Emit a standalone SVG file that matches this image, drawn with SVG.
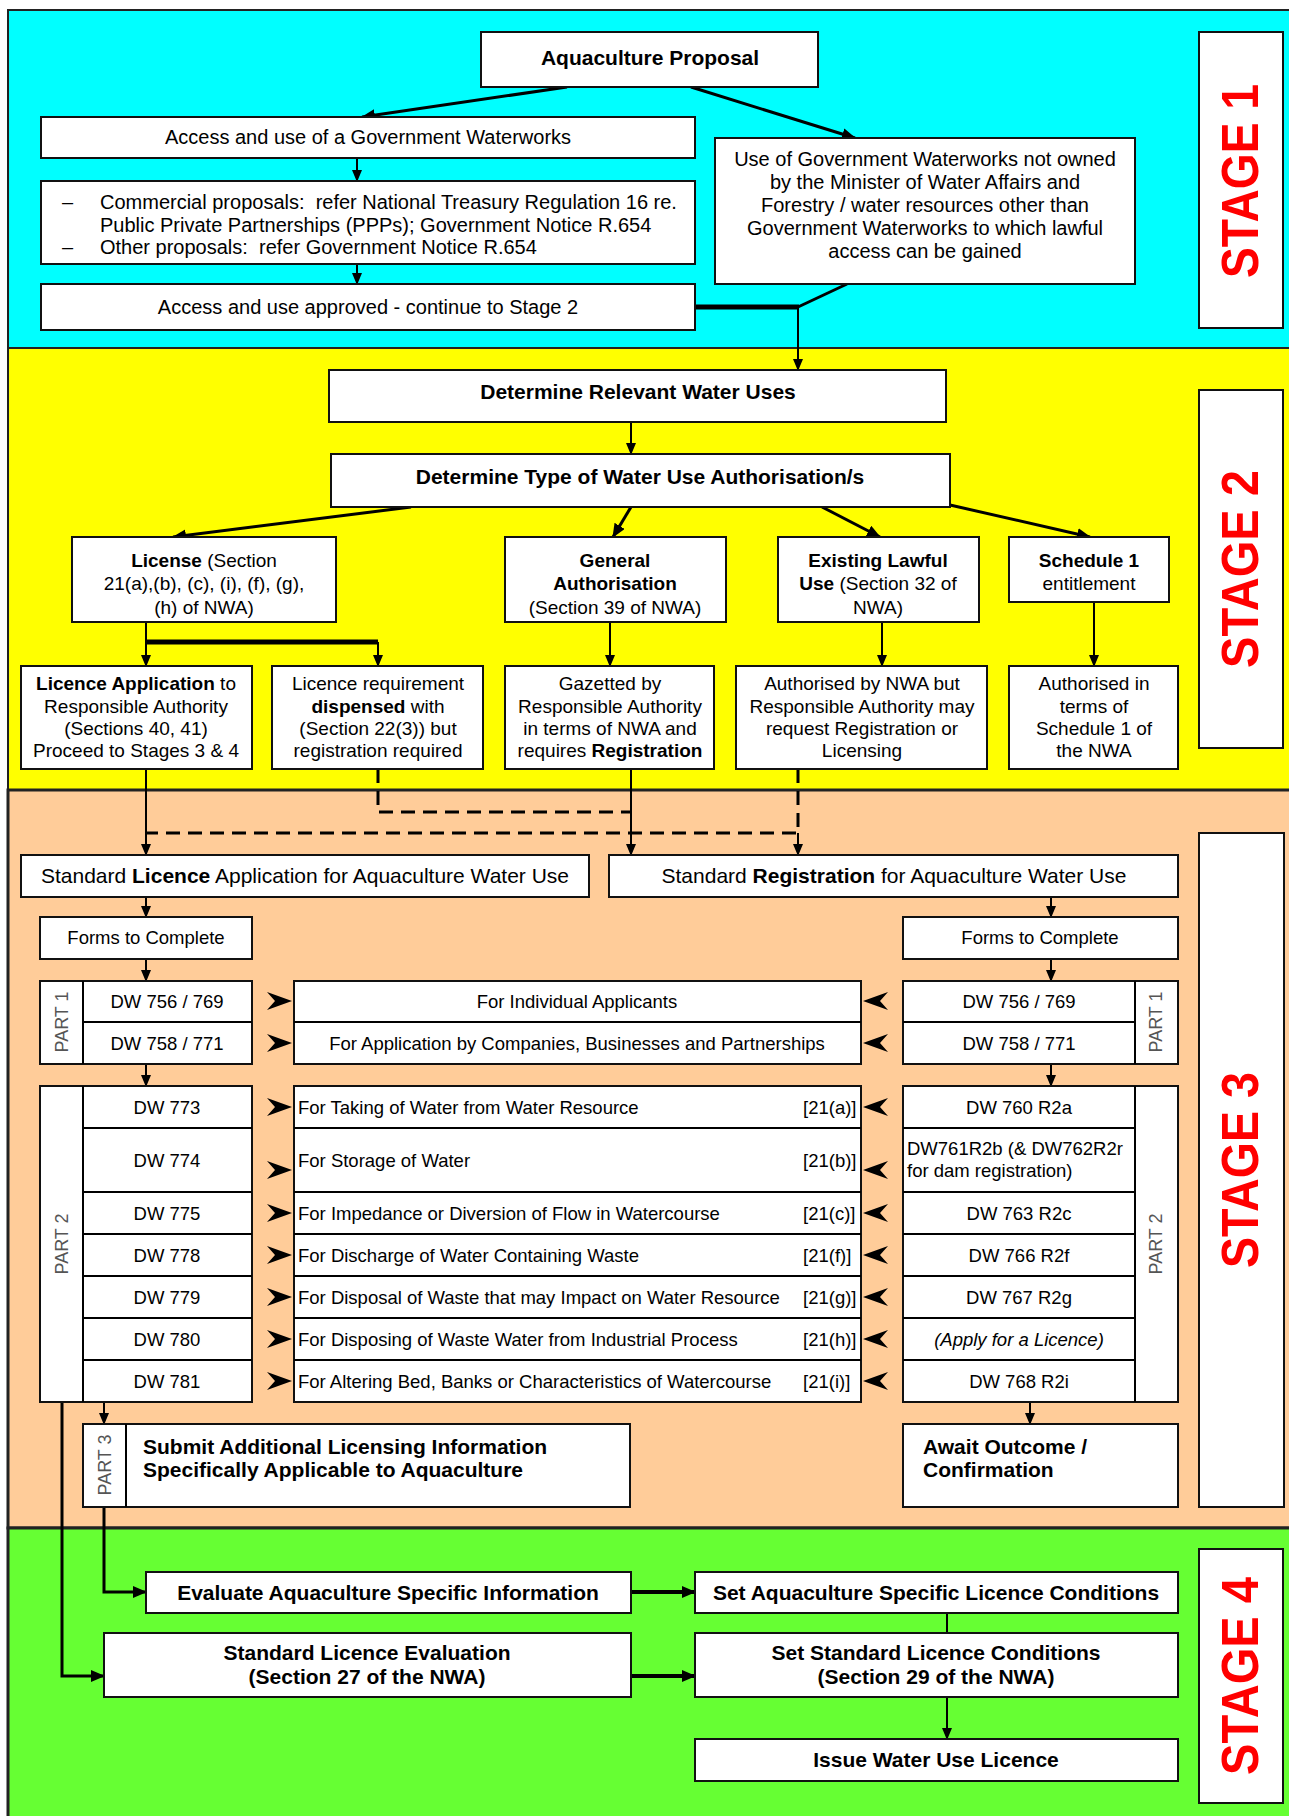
<svg xmlns="http://www.w3.org/2000/svg" width="1289" height="1816" viewBox="0 0 1289 1816">
<style>
text{font-family:"Liberation Sans",Arial,sans-serif;fill:#000}
.box{fill:#fff;stroke:#111;stroke-width:2}
.ln{fill:none;stroke:#000;stroke-width:3}
.thin{fill:none;stroke:#000;stroke-width:2}
.dash{fill:none;stroke:#000;stroke-width:3;stroke-dasharray:14 8}
.c{text-anchor:middle}
.b{font-weight:bold}
.s20{font-size:20px}
.s19{font-size:19px}
.s21{font-size:21px}
.s18{font-size:18.5px}
.part{font-size:18px;fill:#555;text-anchor:middle}
.stage{font-size:52px;font-weight:bold;fill:#f00;text-anchor:middle}
.chev{fill:#000}
</style>
<defs>
<marker id="ah" markerUnits="userSpaceOnUse" markerWidth="14" markerHeight="12" refX="13" refY="6" orient="auto">
<path d="M0,0 L14,6 L0,12 Z" fill="#000"/>
</marker>
<marker id="ahs" markerUnits="userSpaceOnUse" markerWidth="12" markerHeight="10" refX="11" refY="5" orient="auto">
<path d="M0,0 L12,5 L0,10 Z" fill="#000"/>
</marker>
</defs>
<rect width="1289" height="1816" fill="#fff"/>
<g id="stage-backgrounds">
<rect x="8" y="10" width="1290" height="338" fill="#00FFFF" stroke="#222" stroke-width="2"/>
<rect x="8" y="348" width="1290" height="442" fill="#FFFF00" stroke="#222" stroke-width="2"/>
<rect x="8" y="790" width="1290" height="738" fill="#FFCC99" stroke="#222" stroke-width="3"/>
<rect x="8" y="1528" width="1290" height="300" fill="#66FF33" stroke="#222" stroke-width="3"/>
</g>
<g id="stage-labels">
<rect class="box" x="1199" y="32" width="84" height="296"/>
<text class="stage" transform="translate(1258,181) rotate(-90)" textLength="194" lengthAdjust="spacingAndGlyphs">STAGE 1</text>
<rect class="box" x="1199" y="390" width="84" height="358"/>
<text class="stage" transform="translate(1258,569) rotate(-90)" textLength="198" lengthAdjust="spacingAndGlyphs">STAGE 2</text>
<rect class="box" x="1199" y="833" width="85" height="674"/>
<text class="stage" transform="translate(1258,1170) rotate(-90)" textLength="196" lengthAdjust="spacingAndGlyphs">STAGE 3</text>
<rect class="box" x="1199" y="1549" width="84" height="254"/>
<text class="stage" transform="translate(1258,1676) rotate(-90)" textLength="198" lengthAdjust="spacingAndGlyphs">STAGE 4</text>
</g>
<g id="connectors">
<line class="ln" x1="567" y1="87" x2="362" y2="117" marker-end="url(#ah)"/>
<line class="ln" x1="691" y1="87" x2="855" y2="138" marker-end="url(#ah)"/>
<line class="thin" x1="357" y1="158" x2="357" y2="181" marker-end="url(#ahs)"/>
<line class="thin" x1="357" y1="264" x2="357" y2="284" marker-end="url(#ahs)"/>
<line x1="695" y1="307" x2="799" y2="307" stroke="#000" stroke-width="5"/>
<line class="ln" x1="847" y1="284" x2="798" y2="307"/>
<line class="thin" x1="798" y1="307" x2="798" y2="370" marker-end="url(#ahs)"/>
<line class="thin" x1="631" y1="422" x2="631" y2="454" marker-end="url(#ahs)"/>
<line class="ln" x1="411" y1="507" x2="173" y2="537" marker-end="url(#ah)"/>
<line class="ln" x1="631" y1="507" x2="613" y2="537" marker-end="url(#ah)"/>
<line class="ln" x1="822" y1="507" x2="880" y2="537" marker-end="url(#ah)"/>
<line class="ln" x1="950" y1="505" x2="1090" y2="537" marker-end="url(#ah)"/>
<line class="thin" x1="146" y1="622" x2="146" y2="666" marker-end="url(#ahs)"/>
<polyline points="146,642 378,642" fill="none" stroke="#000" stroke-width="5"/>
<line class="thin" x1="378" y1="642" x2="378" y2="666" marker-end="url(#ahs)"/>
<line class="thin" x1="610" y1="622" x2="610" y2="666" marker-end="url(#ahs)"/>
<line class="thin" x1="882" y1="622" x2="882" y2="666" marker-end="url(#ahs)"/>
<line class="thin" x1="1094" y1="602" x2="1094" y2="666" marker-end="url(#ahs)"/>
<line class="thin" x1="146" y1="769" x2="146" y2="855" marker-end="url(#ahs)"/>
<polyline class="dash" points="378,769 378,812 631,812"/>
<line class="thin" x1="631" y1="769" x2="631" y2="855" marker-end="url(#ahs)"/>
<polyline class="dash" points="798,769 798,833 146,833"/>
<line class="thin" x1="798" y1="833" x2="798" y2="855" marker-end="url(#ahs)"/>
<line class="thin" x1="146" y1="897" x2="146" y2="917" marker-end="url(#ahs)"/>
<line class="thin" x1="146" y1="959" x2="146" y2="981" marker-end="url(#ahs)"/>
<line class="thin" x1="146" y1="1064" x2="146" y2="1086" marker-end="url(#ahs)"/>
<line class="thin" x1="1051" y1="897" x2="1051" y2="917" marker-end="url(#ahs)"/>
<line class="thin" x1="1051" y1="959" x2="1051" y2="981" marker-end="url(#ahs)"/>
<line class="thin" x1="1051" y1="1064" x2="1051" y2="1086" marker-end="url(#ahs)"/>
<line class="thin" x1="104" y1="1402" x2="104" y2="1424" marker-end="url(#ahs)"/>
<line class="thin" x1="1030" y1="1402" x2="1030" y2="1424" marker-end="url(#ahs)"/>
<polyline class="ln" points="104,1507 104,1592 146,1592" marker-end="url(#ah)"/>
<polyline class="ln" points="62,1402 62,1676 104,1676" marker-end="url(#ah)"/>
<line x1="631" y1="1592" x2="695" y2="1592" stroke="#000" stroke-width="4" marker-end="url(#ah)"/>
<line x1="631" y1="1676" x2="695" y2="1676" stroke="#000" stroke-width="4" marker-end="url(#ah)"/>
<line class="thin" x1="947" y1="1613" x2="947" y2="1633"/>
<line class="thin" x1="947" y1="1697" x2="947" y2="1739" marker-end="url(#ahs)"/>
<g id="chevrons" class="chev">
<path d="M267,992 L292,1001 L267,1010 L275,1001 Z"/>
<path d="M267,1034 L292,1043 L267,1052 L275,1043 Z"/>
<path d="M267,1098 L292,1107 L267,1116 L275,1107 Z"/>
<path d="M267,1161 L292,1170 L267,1179 L275,1170 Z"/>
<path d="M267,1204 L292,1213 L267,1222 L275,1213 Z"/>
<path d="M267,1246 L292,1255 L267,1264 L275,1255 Z"/>
<path d="M267,1288 L292,1297 L267,1306 L275,1297 Z"/>
<path d="M267,1330 L292,1339 L267,1348 L275,1339 Z"/>
<path d="M267,1372 L292,1381 L267,1390 L275,1381 Z"/>
<path d="M888,992 L863,1001 L888,1010 L880,1001 Z"/>
<path d="M888,1034 L863,1043 L888,1052 L880,1043 Z"/>
<path d="M888,1098 L863,1107 L888,1116 L880,1107 Z"/>
<path d="M888,1161 L863,1170 L888,1179 L880,1170 Z"/>
<path d="M888,1204 L863,1213 L888,1222 L880,1213 Z"/>
<path d="M888,1246 L863,1255 L888,1264 L880,1255 Z"/>
<path d="M888,1288 L863,1297 L888,1306 L880,1297 Z"/>
<path d="M888,1330 L863,1339 L888,1348 L880,1339 Z"/>
<path d="M888,1372 L863,1381 L888,1390 L880,1381 Z"/>
</g>
</g>
<g id="n-proposal">
<rect class="box" x="481" y="32" width="337" height="55"/>
<text class="c b s21" x="650" y="65">Aquaculture Proposal</text>
</g>
<g id="n-access">
<rect class="box" x="41" y="117" width="654" height="41"/>
<text class="c s20" x="368" y="144">Access and use of a Government Waterworks</text>
</g>
<g id="n-commercial">
<rect class="box" x="41" y="181" width="654" height="83"/>
<text class="s20" x="62" y="209">–</text>
<text class="s20" x="100" y="209" xml:space="preserve">Commercial proposals:  refer National Treasury Regulation 16 re.</text>
<text class="s20" x="100" y="232">Public Private Partnerships (PPPs); Government Notice R.654</text>
<text class="s20" x="62" y="254">–</text>
<text class="s20" x="100" y="254" xml:space="preserve">Other proposals:  refer Government Notice R.654</text>
</g>
<g id="n-approved">
<rect class="box" x="41" y="284" width="654" height="46"/>
<text class="c s20" x="368" y="314">Access and use approved - continue to Stage 2</text>
</g>
<g id="n-notowned">
<rect class="box" x="715" y="138" width="420" height="146"/>
<text class="c s20" x="925" y="166">Use of Government Waterworks not owned</text>
<text class="c s20" x="925" y="189">by the Minister of Water Affairs and</text>
<text class="c s20" x="925" y="212">Forestry / water resources other than</text>
<text class="c s20" x="925" y="235">Government Waterworks to which lawful</text>
<text class="c s20" x="925" y="258">access can be gained</text>
</g>
<g id="n-relevant">
<rect class="box" x="329" y="370" width="617" height="52"/>
<text class="c b s21" x="638" y="399">Determine Relevant Water Uses</text>
</g>
<g id="n-type">
<rect class="box" x="331" y="454" width="619" height="53"/>
<text class="c b s21" x="640" y="484">Determine Type of Water Use Authorisation/s</text>
</g>
<g id="n-license">
<rect class="box" x="72" y="537" width="264" height="85"/>
<text class="c s19" x="204" y="567"><tspan class="b">License</tspan> (Section</text>
<text class="c s19" x="204" y="590">21(a),(b), (c), (i), (f), (g),</text>
<text class="c s19" x="204" y="614">(h) of NWA)</text>
</g>
<g id="n-general">
<rect class="box" x="505" y="537" width="221" height="85"/>
<text class="c b s19" x="615" y="567">General</text>
<text class="c b s19" x="615" y="590">Authorisation</text>
<text class="c s19" x="615" y="614">(Section 39 of NWA)</text>
</g>
<g id="n-existing">
<rect class="box" x="778" y="537" width="201" height="85"/>
<text class="c b s19" x="878" y="567">Existing Lawful</text>
<text class="c s19" x="878" y="590"><tspan class="b">Use</tspan> (Section 32 of</text>
<text class="c s19" x="878" y="614">NWA)</text>
</g>
<g id="n-schedule">
<rect class="box" x="1009" y="537" width="160" height="65"/>
<text class="c b s19" x="1089" y="567">Schedule 1</text>
<text class="c s19" x="1089" y="590">entitlement</text>
</g>
<g id="n-licapp">
<rect class="box" x="21" y="666" width="231" height="103"/>
<text class="c s19" x="136" y="690"><tspan class="b">Licence Application</tspan> to</text>
<text class="c s19" x="136" y="713">Responsible Authority</text>
<text class="c s19" x="136" y="735">(Sections 40, 41)</text>
<text class="c s19" x="136" y="757">Proceed to Stages 3 &amp; 4</text>
</g>
<g id="n-dispensed">
<rect class="box" x="272" y="666" width="211" height="103"/>
<text class="c s19" x="378" y="690">Licence requirement</text>
<text class="c s19" x="378" y="713"><tspan class="b">dispensed</tspan> with</text>
<text class="c s19" x="378" y="735">(Section 22(3)) but</text>
<text class="c s19" x="378" y="757">registration required</text>
</g>
<g id="n-gazetted">
<rect class="box" x="505" y="666" width="209" height="103"/>
<text class="c s19" x="610" y="690">Gazetted by</text>
<text class="c s19" x="610" y="713">Responsible Authority</text>
<text class="c s19" x="610" y="735">in terms of NWA and</text>
<text class="c s19" x="610" y="757">requires <tspan class="b">Registration</tspan></text>
</g>
<g id="n-authnwa">
<rect class="box" x="736" y="666" width="251" height="103"/>
<text class="c s19" x="862" y="690">Authorised by NWA but</text>
<text class="c s19" x="862" y="713">Responsible Authority may</text>
<text class="c s19" x="862" y="735">request Registration or</text>
<text class="c s19" x="862" y="757">Licensing</text>
</g>
<g id="n-authsched">
<rect class="box" x="1009" y="666" width="169" height="103"/>
<text class="c s19" x="1094" y="690">Authorised in</text>
<text class="c s19" x="1094" y="713">terms of</text>
<text class="c s19" x="1094" y="735">Schedule 1 of</text>
<text class="c s19" x="1094" y="757">the NWA</text>
</g>
<g id="n-stdlicence">
<rect class="box" x="21" y="855" width="568" height="42"/>
<text class="c s21" x="305" y="883">Standard <tspan class="b">Licence</tspan> Application for Aquaculture Water Use</text>
</g>
<g id="n-stdreg">
<rect class="box" x="609" y="855" width="569" height="42"/>
<text class="c s21" x="894" y="883">Standard <tspan class="b">Registration</tspan> for Aquaculture Water Use</text>
</g>
<g id="n-forms-left">
<rect class="box" x="40" y="917" width="212" height="42"/>
<text class="c s18" x="146" y="944">Forms to Complete</text>
</g>
<g id="n-forms-right">
<rect class="box" x="903" y="917" width="275" height="42"/>
<text class="c s18" x="1040" y="944">Forms to Complete</text>
</g>
<g id="n-part1-left">
<rect class="box" x="40" y="981" width="212" height="83"/>
<line class="thin" x1="83" y1="981" x2="83" y2="1064"/>
<line class="thin" x1="83" y1="1022" x2="252" y2="1022"/>
<text class="part" transform="translate(68,1022) rotate(-90)">PART 1</text>
<text class="c s18" x="167" y="1008">DW 756 / 769</text>
<text class="c s18" x="167" y="1050">DW 758 / 771</text>
</g>
<g id="n-part1-mid">
<rect class="box" x="294" y="981" width="567" height="83"/>
<line class="thin" x1="294" y1="1022" x2="861" y2="1022"/>
<text class="c s18" x="577" y="1008">For Individual Applicants</text>
<text class="c s18" x="577" y="1050">For Application by Companies, Businesses and Partnerships</text>
</g>
<g id="n-part1-right">
<rect class="box" x="903" y="981" width="275" height="83"/>
<line class="thin" x1="1135" y1="981" x2="1135" y2="1064"/>
<line class="thin" x1="903" y1="1022" x2="1135" y2="1022"/>
<text class="part" transform="translate(1162,1022) rotate(-90)">PART 1</text>
<text class="c s18" x="1019" y="1008">DW 756 / 769</text>
<text class="c s18" x="1019" y="1050">DW 758 / 771</text>
</g>
<g id="n-part2-left">
<rect class="box" x="40" y="1086" width="212" height="316"/>
<line class="thin" x1="83" y1="1086" x2="83" y2="1402"/>
<path class="thin" d="M83,1128H252M83,1192H252M83,1234H252M83,1276H252M83,1318H252M83,1360H252"/>
<text class="part" transform="translate(68,1244) rotate(-90)">PART 2</text>
<text class="c s18" x="167" y="1114">DW 773</text>
<text class="c s18" x="167" y="1167">DW 774</text>
<text class="c s18" x="167" y="1220">DW 775</text>
<text class="c s18" x="167" y="1262">DW 778</text>
<text class="c s18" x="167" y="1304">DW 779</text>
<text class="c s18" x="167" y="1346">DW 780</text>
<text class="c s18" x="167" y="1388">DW 781</text>
</g>
<g id="n-part2-mid">
<rect class="box" x="294" y="1086" width="567" height="316"/>
<path class="thin" d="M294,1128H861M294,1192H861M294,1234H861M294,1276H861M294,1318H861M294,1360H861"/>
<text class="s18" x="298" y="1114">For Taking of Water from Water Resource</text>
<text class="s18" x="298" y="1167">For Storage of Water</text>
<text class="s18" x="298" y="1220">For Impedance or Diversion of Flow in Watercourse</text>
<text class="s18" x="298" y="1262">For Discharge of Water Containing Waste</text>
<text class="s18" x="298" y="1304">For Disposal of Waste that may Impact on Water Resource</text>
<text class="s18" x="298" y="1346">For Disposing of Waste Water from Industrial Process</text>
<text class="s18" x="298" y="1388">For Altering Bed, Banks or Characteristics of Watercourse</text>
<text class="s18" x="803" y="1114">[21(a)]</text>
<text class="s18" x="803" y="1167">[21(b)]</text>
<text class="s18" x="803" y="1220">[21(c)]</text>
<text class="s18" x="803" y="1262">[21(f)]</text>
<text class="s18" x="803" y="1304">[21(g)]</text>
<text class="s18" x="803" y="1346">[21(h)]</text>
<text class="s18" x="803" y="1388">[21(i)]</text>
</g>
<g id="n-part2-right">
<rect class="box" x="903" y="1086" width="275" height="316"/>
<line class="thin" x1="1135" y1="1086" x2="1135" y2="1402"/>
<path class="thin" d="M903,1128H1135M903,1192H1135M903,1234H1135M903,1276H1135M903,1318H1135M903,1360H1135"/>
<text class="part" transform="translate(1162,1244) rotate(-90)">PART 2</text>
<text class="c s18" x="1019" y="1114">DW 760 R2a</text>
<text class="s18" x="907" y="1155">DW761R2b (&amp; DW762R2r</text>
<text class="s18" x="907" y="1177">for dam registration)</text>
<text class="c s18" x="1019" y="1220">DW 763 R2c</text>
<text class="c s18" x="1019" y="1262">DW 766 R2f</text>
<text class="c s18" x="1019" y="1304">DW 767 R2g</text>
<text class="c s18" x="1019" y="1346" font-style="italic">(Apply for a Licence)</text>
<text class="c s18" x="1019" y="1388">DW 768 R2i</text>
</g>
<g id="n-part3">
<rect class="box" x="83" y="1424" width="547" height="83"/>
<line class="thin" x1="126" y1="1424" x2="126" y2="1507"/>
<text class="part" transform="translate(111,1465) rotate(-90)">PART 3</text>
<text class="b s21" x="143" y="1454">Submit Additional Licensing Information</text>
<text class="b s21" x="143" y="1477">Specifically Applicable to Aquaculture</text>
</g>
<g id="n-await">
<rect class="box" x="903" y="1424" width="275" height="83"/>
<text class="b s21" x="923" y="1454">Await Outcome /</text>
<text class="b s21" x="923" y="1477">Confirmation</text>
</g>
<g id="n-evaluate">
<rect class="box" x="146" y="1572" width="485" height="41"/>
<text class="c b s21" x="388" y="1600">Evaluate Aquaculture Specific Information</text>
</g>
<g id="n-setaqua">
<rect class="box" x="695" y="1572" width="483" height="41"/>
<text class="c b s21" x="936" y="1600">Set Aquaculture Specific Licence Conditions</text>
</g>
<g id="n-stdeval">
<rect class="box" x="104" y="1633" width="527" height="64"/>
<text class="c b s21" x="367" y="1660">Standard Licence Evaluation</text>
<text class="c b s21" x="367" y="1684">(Section 27 of the NWA)</text>
</g>
<g id="n-setstd">
<rect class="box" x="695" y="1633" width="483" height="64"/>
<text class="c b s21" x="936" y="1660">Set Standard Licence Conditions</text>
<text class="c b s21" x="936" y="1684">(Section 29 of the NWA)</text>
</g>
<g id="n-issue">
<rect class="box" x="695" y="1739" width="483" height="42"/>
<text class="c b s21" x="936" y="1767">Issue Water Use Licence</text>
</g>
</svg>
